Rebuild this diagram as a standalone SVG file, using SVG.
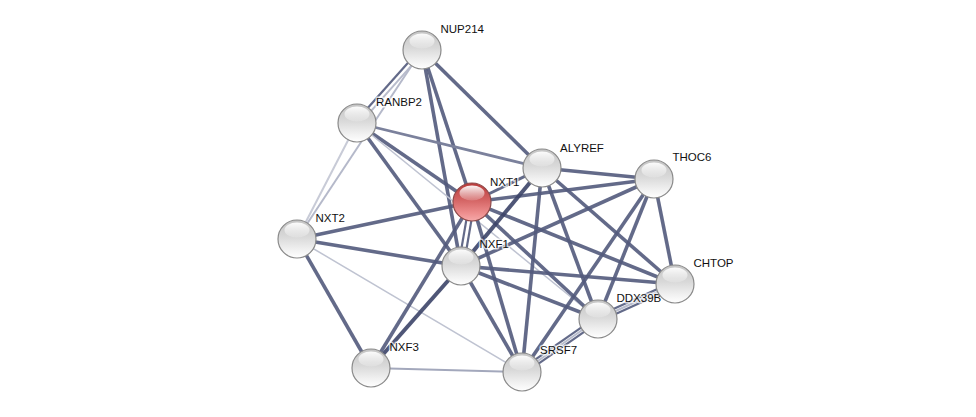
<svg xmlns="http://www.w3.org/2000/svg" width="976" height="417" viewBox="0 0 976 417">
<defs>
<linearGradient id="gBody" x1="0" y1="0" x2="0" y2="1">
<stop offset="0" stop-color="#c4c4c4"/>
<stop offset="0.45" stop-color="#d9d9d9"/>
<stop offset="0.8" stop-color="#f2f2f2"/>
<stop offset="1" stop-color="#ffffff"/>
</linearGradient>
<linearGradient id="gRed" x1="0" y1="0" x2="0" y2="1">
<stop offset="0" stop-color="#b83a3a"/>
<stop offset="0.45" stop-color="#d46464"/>
<stop offset="0.8" stop-color="#ee8f8f"/>
<stop offset="1" stop-color="#f6aaaa"/>
</linearGradient>
<linearGradient id="gHi" x1="0" y1="0" x2="0" y2="1">
<stop offset="0" stop-color="#ffffff" stop-opacity="0.95"/>
<stop offset="1" stop-color="#ffffff" stop-opacity="0.15"/>
</linearGradient>
</defs>
<style>
.e{fill:none;stroke-linecap:butt}
.d{stroke:#525a7c;stroke-width:3.6;stroke-opacity:0.9}
.dn{stroke:#525a7c;stroke-width:2.2;stroke-opacity:0.9}
.m{stroke:#7b819c;stroke-width:2.8}
.l{stroke:#b5b9ca;stroke-width:2}
.lt{stroke:#bfc3d1;stroke-width:1.5}
.ln{stroke:#b8bccc;stroke-width:2}
.body{fill:url(#gBody);stroke:#8a8a8a;stroke-width:1.2}
.red{fill:url(#gRed);stroke:#8e4a4a;stroke-width:1.2}
.hi{fill:url(#gHi)}
.lab{font-family:"Liberation Sans",Arial,sans-serif;font-size:11.5px;fill:#111;stroke:#ffffff;stroke-width:3;stroke-opacity:0.7;paint-order:stroke;stroke-linejoin:round}
</style>
<rect width="976" height="417" fill="#ffffff"/>
<g id="connectors" class="e">
<line class="dn" x1="420.5" y1="48.7" x2="355.5" y2="121.7"/>
<line class="ln" x1="423.9" y1="51.7" x2="358.9" y2="124.7"/>
<line class="l" x1="422" y1="50" x2="297" y2="239"/>
<line class="d" x1="422" y1="50" x2="472" y2="202"/>
<line class="d" x1="422" y1="50" x2="461" y2="266"/>
<line class="d" x1="422" y1="50" x2="542" y2="168"/>
<line class="l" x1="357" y1="123" x2="297" y2="239" style="stroke:#c8cbd7"/>
<line class="m" x1="357" y1="123" x2="542" y2="168"/>
<line class="d" x1="357" y1="123" x2="472" y2="202"/>
<line class="d" x1="357" y1="123" x2="461" y2="266"/>
<line class="lt" x1="357" y1="123" x2="598" y2="319"/>
<line class="d" x1="297" y1="239" x2="472" y2="202"/>
<line class="d" x1="297" y1="239" x2="461" y2="266"/>
<line class="d" x1="297" y1="239" x2="371" y2="368"/>
<line class="lt" x1="297" y1="239" x2="522" y2="372"/>
<line class="d" x1="371" y1="368" x2="461" y2="266" style="stroke:#3c4468;stroke-width:4"/>
<line class="d" x1="371" y1="368" x2="472" y2="202"/>
<line class="l" x1="371" y1="368" x2="522" y2="372" style="stroke:#a3a8bc"/>
<line class="dn" x1="474.5" y1="202.4" x2="463.5" y2="266.4"/>
<line class="dn" x1="469.5" y1="201.6" x2="458.5" y2="265.6"/>
<line class="d" x1="472" y1="202" x2="542" y2="168" style="stroke-width:3"/>
<line class="d" x1="472" y1="202" x2="654" y2="179"/>
<line class="d" x1="472" y1="202" x2="675" y2="284"/>
<line class="d" x1="472" y1="202" x2="598" y2="319"/>
<line class="d" x1="472" y1="202" x2="522" y2="372"/>
<line class="d" x1="542" y1="168" x2="654" y2="179"/>
<line class="d" x1="542" y1="168" x2="675" y2="284"/>
<line class="d" x1="542" y1="168" x2="598" y2="319"/>
<line class="d" x1="542" y1="168" x2="522" y2="372"/>
<line class="d" x1="542" y1="168" x2="461" y2="266" style="stroke:#3c4468;stroke-width:4"/>
<line class="d" x1="654" y1="179" x2="675" y2="284"/>
<line class="d" x1="654" y1="179" x2="598" y2="319"/>
<line class="d" x1="654" y1="179" x2="522" y2="372"/>
<line class="d" x1="654" y1="179" x2="461" y2="266"/>
<line class="dn" x1="673.9" y1="281.6" x2="596.9" y2="316.6"/>
<line class="ln" x1="675" y1="284" x2="598" y2="319"/>
<line class="dn" x1="676.1" y1="286.4" x2="599.1" y2="321.4"/>
<line class="d" x1="675" y1="284" x2="461" y2="266"/>
<line class="dn" x1="596.5" y1="316.9" x2="520.5" y2="369.9"/>
<line class="ln" x1="598" y1="319" x2="522" y2="372"/>
<line class="dn" x1="599.5" y1="321.1" x2="523.5" y2="374.1"/>
<line class="d" x1="598" y1="319" x2="461" y2="266"/>
<line class="d" x1="522" y1="372" x2="461" y2="266"/>
</g>
<g id="node-NUP214">
<circle class="body" cx="422" cy="50" r="19"/>
<ellipse class="hi" cx="422" cy="41" rx="12.5" ry="7.5"/>
<text class="lab" x="440.5" y="32.5">NUP214</text>
</g>
<g id="node-RANBP2">
<circle class="body" cx="357" cy="123" r="19"/>
<ellipse class="hi" cx="357" cy="114" rx="12.5" ry="7.5"/>
<text class="lab" x="376" y="106">RANBP2</text>
</g>
<g id="node-ALYREF">
<circle class="body" cx="542" cy="168" r="19"/>
<ellipse class="hi" cx="542" cy="159" rx="12.5" ry="7.5"/>
<text class="lab" x="560" y="151.5">ALYREF</text>
</g>
<g id="node-THOC6">
<circle class="body" cx="654" cy="179" r="19"/>
<ellipse class="hi" cx="654" cy="170" rx="12.5" ry="7.5"/>
<text class="lab" x="672.5" y="160.5">THOC6</text>
</g>
<g id="node-NXT2">
<circle class="body" cx="297" cy="239" r="19"/>
<ellipse class="hi" cx="297" cy="230" rx="12.5" ry="7.5"/>
<text class="lab" x="315.5" y="221.5">NXT2</text>
</g>
<g id="node-NXF1">
<circle class="body" cx="461" cy="266" r="19"/>
<ellipse class="hi" cx="461" cy="257" rx="12.5" ry="7.5"/>
<text class="lab" x="479.5" y="248">NXF1</text>
</g>
<g id="node-NXT1">
<circle class="red" cx="472" cy="202" r="19"/>
<ellipse class="hi" cx="472" cy="193" rx="12.5" ry="7.5"/>
<text class="lab" x="490" y="185.5">NXT1</text>
</g>
<g id="node-DDX39B">
<circle class="body" cx="598" cy="319" r="19"/>
<ellipse class="hi" cx="598" cy="310" rx="12.5" ry="7.5"/>
<text class="lab" x="616.5" y="301.5">DDX39B</text>
</g>
<g id="node-CHTOP">
<circle class="body" cx="675" cy="284" r="19"/>
<ellipse class="hi" cx="675" cy="275" rx="12.5" ry="7.5"/>
<text class="lab" x="693.5" y="266.5">CHTOP</text>
</g>
<g id="node-NXF3">
<circle class="body" cx="371" cy="368" r="19"/>
<ellipse class="hi" cx="371" cy="359" rx="12.5" ry="7.5"/>
<text class="lab" x="389.5" y="350.5">NXF3</text>
</g>
<g id="node-SRSF7">
<circle class="body" cx="522" cy="372" r="19"/>
<ellipse class="hi" cx="522" cy="363" rx="12.5" ry="7.5"/>
<text class="lab" x="540" y="354">SRSF7</text>
</g>
</svg>
